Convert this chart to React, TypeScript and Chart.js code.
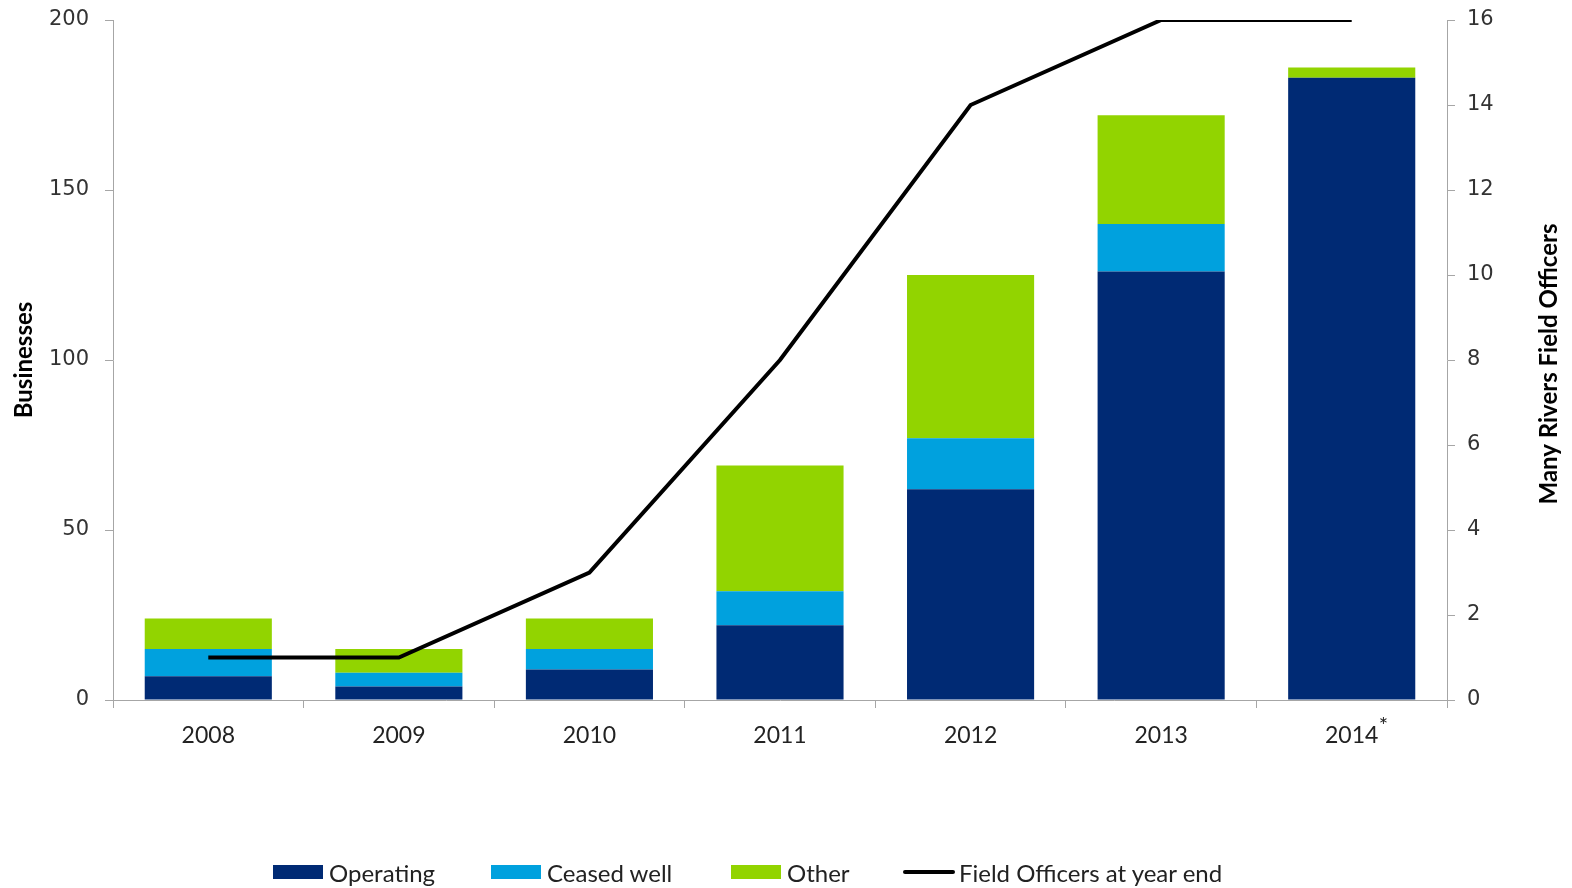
import React, { useEffect, useRef } from "react";
import { Chart, registerables } from "chart.js";

Chart.register(...registerables);

const years = ["2008", "2009", "2010", "2011", "2012", "2013", "2014"];
const operating = [7, 4, 9, 22, 62, 126, 183];
const ceasedWell = [8, 4, 6, 10, 15, 14, 0];
const other = [9, 7, 9, 37, 48, 32, 3];
const fieldOfficers = [1, 1, 3, 8, 14, 16, 16];
const leftTicks = [0, 50, 100, 150, 200];
const rightTicks = [0, 2, 4, 6, 8, 10, 12, 14, 16];

const NAVY = "#002A74";
const CYAN = "#00A1DE";
const GREEN = "#92D400";
const AXIS = "#A6A6A6";
const FONT = "Lato, 'Open Sans', sans-serif";

const titlesPlugin = {
  id: "axisTitles",
  afterDraw(chart: any) {
    const ctx = chart.ctx;
    ctx.save();
    ctx.fillStyle = "#000";
    ctx.font = `bold 24px ${FONT}`;
    ctx.textAlign = "center";
    ctx.textBaseline = "middle";
    ctx.translate(24, 360);
    ctx.rotate(-Math.PI / 2);
    ctx.fillText("Businesses", 0, 0);
    ctx.restore();
    ctx.save();
    ctx.fillStyle = "#000";
    ctx.font = `bold 24px ${FONT}`;
    ctx.textAlign = "center";
    ctx.textBaseline = "middle";
    ctx.translate(1549, 364);
    ctx.rotate(-Math.PI / 2);
    ctx.fillText("Many Rivers Field Officers", 0, 0);
    ctx.restore();
    // asterisk on 2014
    const xs = chart.scales.x;
    const x2014 = xs.getPixelForValue(6);
    ctx.save();
    ctx.fillStyle = "#222";
    ctx.font = `22px ${FONT}`;
    ctx.textAlign = "left";
    ctx.textBaseline = "middle";
    ctx.fillText("*", x2014 + 27, 726);
    ctx.restore();
  },
};

const noPad = (scale: any, w: number) => {
  scale.width = w;
  scale.paddingTop = 0;
  scale.paddingBottom = 0;
};

export default function App() {
  const ref = useRef<HTMLCanvasElement>(null);
  useEffect(() => {
    document.body.style.margin = "0";
    const chart = new Chart(ref.current!, {
      type: "bar",
      data: {
        labels: years,
        datasets: [
          {
            type: "line",
            label: "Field Officers at year end",
            data: fieldOfficers,
            yAxisID: "y1",
            borderColor: "#000",
            backgroundColor: "#000",
            borderWidth: 4,
            pointRadius: 0,
            tension: 0,
            stack: "line",
            order: 0,
          } as any,
          { label: "Operating", data: operating, backgroundColor: NAVY, yAxisID: "y", stack: "s", order: 1 },
          { label: "Ceased well", data: ceasedWell, backgroundColor: CYAN, yAxisID: "y", stack: "s", order: 1 },
          { label: "Other", data: other, backgroundColor: GREEN, yAxisID: "y", stack: "s", order: 1 },
        ],
      },
      options: {
        animation: false,
        responsive: false,
        maintainAspectRatio: false,
        layout: { padding: { top: 20, left: 0, right: 0, bottom: 0 } },
        datasets: { bar: { barPercentage: 0.667, categoryPercentage: 1 } },
        plugins: { legend: { display: false }, tooltip: { enabled: false } },
        scales: {
          x: {
            stacked: true,
            offset: true,
            grid: { display: true, drawOnChartArea: false, offset: true, color: AXIS, tickLength: 8, tickColor: AXIS },
            border: { color: AXIS, width: 1 },
            ticks: {
              font: { family: FONT, size: 23 },
              color: "#222",
              padding: 14,
              maxRotation: 0,
            },
            afterFit(scale: any) {
              scale.height = 188;
              scale.paddingLeft = 0;
              scale.paddingRight = 0;
            },
          },
          y: {
            position: "left",
            stacked: true,
            min: 0,
            max: 200,
            afterBuildTicks(scale: any) {
              scale.ticks = leftTicks.map((v) => ({ value: v }));
            },
            grid: { drawOnChartArea: false, color: AXIS, tickLength: 8, tickColor: AXIS },
            border: { color: AXIS, width: 1 },
            ticks: { font: { family: "'DejaVu Sans', sans-serif", size: 21 }, color: "#333", padding: 16 },
            afterFit(scale: any) {
              noPad(scale, 113);
            },
          },
          y1: {
            position: "right",
            min: 0,
            max: 16,
            afterBuildTicks(scale: any) {
              scale.ticks = rightTicks.map((v) => ({ value: v }));
            },
            grid: { drawOnChartArea: false, color: AXIS, tickLength: 8, tickColor: AXIS },
            border: { color: AXIS, width: 1 },
            ticks: { font: { family: "'DejaVu Sans', sans-serif", size: 21 }, color: "#333", padding: 12 },
            afterFit(scale: any) {
              noPad(scale, 125);
            },
          },
        },
      },
      plugins: [titlesPlugin],
    });
    return () => chart.destroy();
  }, []);

  const legendItems = [
    { label: "Operating", color: NAVY, x: 273, kind: "box" },
    { label: "Ceased well", color: CYAN, x: 491, kind: "box" },
    { label: "Other", color: GREEN, x: 731, kind: "box" },
    { label: "Field Officers at year end", color: "#000", x: 903, kind: "line" },
  ];

  return (
    <div style={{ position: "relative", width: 1572, height: 888 }}>
      <canvas ref={ref} width={1572} height={888} style={{ display: "block" }} />
      {legendItems.map((it) => (
        <div
          key={it.label}
          style={{
            position: "absolute",
            left: it.x,
            top: 858,
            height: 28,
            display: "flex",
            alignItems: "center",
            fontFamily: FONT,
            fontSize: 24,
            color: "#222",
            whiteSpace: "nowrap",
          }}
        >
          {it.kind === "box" ? (
            <span style={{ display: "inline-block", width: 50, height: 14, background: it.color, marginRight: 6 }} />
          ) : (
            <span style={{ display: "inline-block", width: 52, height: 4, background: it.color, borderRadius: 2, marginRight: 4 }} />
          )}
          <span>{it.label}</span>
        </div>
      ))}
    </div>
  );
}
